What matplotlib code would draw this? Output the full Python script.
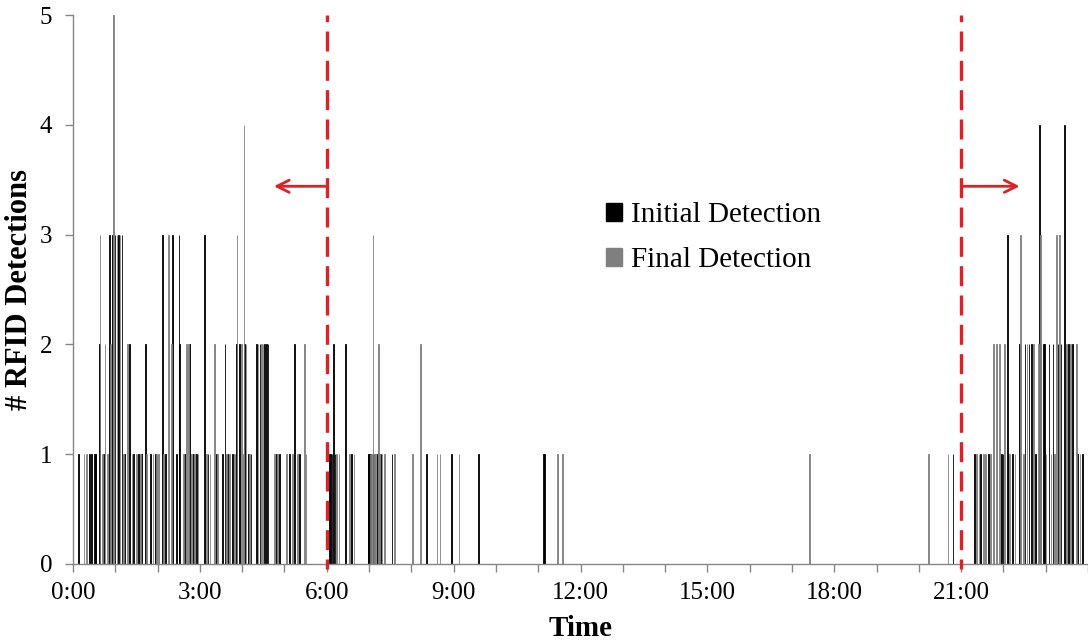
import matplotlib
matplotlib.use("Agg")
import matplotlib.pyplot as plt
from matplotlib.patches import Patch

# ---- data (minutes after midnight, detection counts) ----
initial_times = [7, 23, 26, 30, 31, 32, 37, 43, 51, 56, 59, 64, 69, 73, 80, 85, 92, 97,
                 102, 109, 117, 126, 131, 141, 146, 150, 151, 158, 165, 170, 175, 186,
                 191, 203, 212, 215, 219, 226, 231, 236, 243, 248, 252, 260, 265, 271,
                 274, 276, 288, 292, 307, 314, 321, 363, 364, 365, 367, 369, 371, 386,
                 395, 418, 419, 420, 422, 426, 431, 436, 452, 501, 536, 575, 667, 668,
                 1248, 1278, 1287, 1298, 1317, 1319, 1325, 1326, 1332, 1342, 1350, 1356,
                 1359, 1365, 1371, 1373, 1376, 1378, 1384, 1390, 1397, 1401, 1406, 1412,
                 1418, 1425, 1432]
initial_counts = [1, 1, 1, 1, 1, 1, 2, 1, 3, 3, 3, 3, 3, 1, 2, 1, 1, 1,
                  2, 1, 1, 3, 1, 3, 1, 3, 2, 1, 2, 1, 1, 3,
                  1, 1, 1, 2, 1, 1, 2, 2, 2, 1, 1, 2, 2, 2,
                  2, 2, 1, 1, 1, 2, 1, 1, 1, 1, 1, 2, 1, 2,
                  1, 1, 1, 1, 1, 1, 1, 1, 1, 1, 1, 1, 1, 1,
                  1, 1, 1, 1, 1, 1, 3, 1, 1, 2, 2, 2,
                  2, 1, 4, 2, 2, 2, 2, 2, 2, 2, 4, 2,
                  2, 1, 1]

final_times = [15, 19, 38, 41, 45, 48, 53, 57, 62, 66, 71, 77, 83, 90, 95, 104, 113,
               118, 121, 128, 135, 139, 156, 161, 163, 168, 172, 177, 189, 194, 200,
               205, 217, 222, 229, 232, 239, 241, 242, 245, 250, 262, 267, 269, 285,
               290, 302, 311, 318, 328, 330, 373, 377, 392, 398, 421, 423, 425, 427,
               429, 433, 434, 438, 441, 456, 481, 493, 516, 520, 547, 687, 694, 1044,
               1213, 1241, 1281, 1285, 1291, 1294, 1301, 1305, 1310, 1314, 1321, 1328,
               1336, 1344, 1348, 1353, 1362, 1369, 1372, 1380, 1387, 1392, 1395, 1399,
               1409, 1415, 1423, 1428]
final_counts = [1, 1, 3, 1, 2, 1, 2, 5, 3, 3, 1, 2, 1, 1, 1, 1, 1,
                1, 1, 1, 3, 2, 1, 2, 2, 1, 1, 1, 1, 1, 2,
                1, 1, 1, 1, 3, 2, 1, 4, 2, 1, 2, 2, 2, 1,
                1, 1, 1, 1, 2, 1, 1, 1, 1, 1, 1, 1, 3, 1,
                1, 2, 1, 1, 1, 1, 1, 2, 1, 1, 1, 1, 1, 1,
                1, 1, 1, 1, 1, 1, 1, 2, 2, 2, 2, 1,
                1, 3, 1, 2, 2, 2, 3, 1, 1, 1, 3, 3,
                2, 2, 2, 1]

tick_minutes = list(range(0, 1441, 60))
label_minutes = list(range(0, 1441, 180))
tick_labels = ["0:00", "3:00", "6:00", "9:00", "12:00", "15:00", "18:00", "21:00"]
window_edges = [360, 1260]   # 6:00 and 21:00
series_names = ["Initial Detection", "Final Detection"]

SERIF = ['Liberation Serif', 'DejaVu Serif']

# ---- figure ----
fig = plt.figure(figsize=(10.88, 6.42), dpi=100)
ax = fig.add_axes([73 / 1088, 78 / 642, 1 - 73 / 1088, (564 - 15) / 642])
plt.rcParams['font.family'] = SERIF

c_init = "#000000"
c_final = "#7f7f7f"
ax.bar(initial_times, initial_counts, width=1.0, align='edge', color=c_init,
       edgecolor=c_init, linewidth=0.6, zorder=2)
ax.bar(final_times, final_counts, width=1.0, align='edge', color=c_final,
       edgecolor=c_final, linewidth=0.6, zorder=2)

ax.set_xlim(0, 1434)
ax.set_ylim(0, 5)

ax.set_xticks(tick_minutes)
ax.set_xticklabels([tick_labels[label_minutes.index(m)] if m in label_minutes[:-1] else ""
                    for m in tick_minutes])
ax.set_yticks(range(0, 6))
ax.tick_params(axis='both', colors="#868686", labelcolor="black", length=6, width=1,
               labelsize=18)
for lab in ax.get_xticklabels() + ax.get_yticklabels():
    lab.set_family(SERIF)
ax.tick_params(axis='x', pad=7)
ax.tick_params(axis='y', pad=9)

for s in ["top", "right"]:
    ax.spines[s].set_visible(False)
for s in ["left", "bottom"]:
    ax.spines[s].set_color("#868686")
    ax.spines[s].set_linewidth(1)

ax.set_xlabel("Time", fontsize=21, fontweight='bold', family=SERIF, labelpad=8)
ax.set_ylabel("# RFID Detections", fontsize=22, fontweight='bold', family=SERIF,
              labelpad=4)

red = "#dc2228"
for xe in window_edges:
    ax.axvline(xe, ymin=-0.01, ymax=1.0, color=red, lw=2.4,
               linestyle=(3, (6, 2.8)), zorder=5, clip_on=False)

ax.annotate("", xy=(285, 3.44), xytext=(360, 3.44),
            arrowprops=dict(arrowstyle="->", color=red, lw=2, mutation_scale=22,
                            shrinkA=0, shrinkB=0), zorder=6)
ax.annotate("", xy=(1343, 3.44), xytext=(1260, 3.44),
            arrowprops=dict(arrowstyle="->", color=red, lw=2, mutation_scale=22,
                            shrinkA=0, shrinkB=0), zorder=6)

handles = [Patch(facecolor=c_init, edgecolor=c_init), Patch(facecolor=c_final, edgecolor=c_final)]
leg = fig.legend(handles, series_names, loc="upper left",
                 bbox_to_anchor=(580 / 1088, 1 - 176 / 642), frameon=False,
                 prop={'family': SERIF, 'size': 21},
                 handlelength=0.55, handleheight=0.55, handletextpad=0.3,
                 labelspacing=0.65)

fig.savefig("out.png", dpi=100)
